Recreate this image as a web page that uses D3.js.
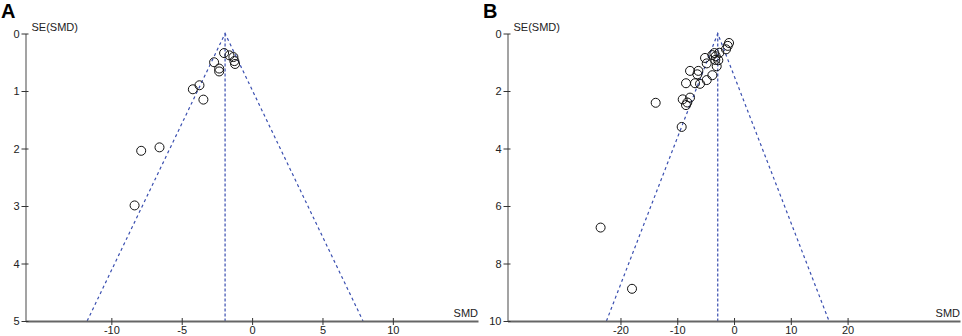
<!DOCTYPE html>
<html>
<head>
<meta charset="utf-8">
<script src="https://cdn.jsdelivr.net/npm/d3@7"></script>
<style>
  body { margin: 0; background: #fff; }
  svg { display: block; font-family: "Liberation Sans", Arial, sans-serif; }
</style>
</head>
<body>
<svg width="962" height="336"></svg>
<script>
// Panel A: SMD and SE(SMD) for each study
var smdA = [-1.99, -1.61, -1.33, -1.26, -1.21, -2.70, -2.34, -2.34, -3.74, -4.21, -3.46, -6.58, -7.88, -8.35];
var seA  = [0.34, 0.38, 0.41, 0.48, 0.53, 0.50, 0.61, 0.66, 0.90, 0.97, 1.15, 1.98, 2.04, 2.99];
var pooledA = -1.92;
var xTicksA = [-10, -5, 0, 5, 10];
var yTicksA = [0, 1, 2, 3, 4, 5];

// Panel B
var smdB = [-0.88, -1.11, -1.41, -2.59, -3.47, -3.82, -3.23, -5.11, -2.77, -3.30, -4.81, -3.05, -7.75, -6.29,
            -6.46, -3.82, -4.81, -8.46, -6.87, -5.99, -7.75, -9.04, -8.23, -8.46, -13.8, -9.22, -23.5, -17.97];
var seB  = [0.33, 0.43, 0.55, 0.67, 0.68, 0.75, 0.79, 0.85, 0.93, 0.92, 1.04, 1.14, 1.30, 1.30,
            1.42, 1.45, 1.62, 1.73, 1.73, 1.75, 2.23, 2.29, 2.40, 2.49, 2.41, 3.25, 6.75, 8.88];
var pooledB = -2.87;
var xTicksB = [-20, -10, 0, 10, 20];
var yTicksB = [0, 2, 4, 6, 8, 10];

var svg = d3.select("svg");
var axisColor = "#666";
var funnelColor = "#3a4fb0";
var plain = d => String(d); // plain hyphen, no decimals

function drawPanel(offsetX, label, smd, se, pooled, xDomain, yMax, xTicks, yTicks) {
    var g = svg.append("g").attr("transform", "translate(" + offsetX + ",0)");
    var left = 25.5, right = 478, top = 33.5, bottom = 321;

    var x = d3.scaleLinear().domain(xDomain).range([left, right]);
    var y = d3.scaleLinear().domain([0, yMax]).range([top, bottom]);

    // funnel (95% pseudo confidence limits)
    var funnel = [[pooled - 1.96 * yMax, yMax], [pooled, 0], [pooled + 1.96 * yMax, yMax]];
    g.append("path")
        .attr("d", d3.line().x(d => x(d[0])).y(d => y(d[1]))(funnel))
        .attr("fill", "none")
        .attr("stroke", funnelColor)
        .attr("stroke-width", 1.2)
        .attr("stroke-dasharray", "3,3");

    g.append("line")
        .attr("x1", x(pooled)).attr("x2", x(pooled))
        .attr("y1", y(0)).attr("y2", y(yMax))
        .attr("stroke", funnelColor)
        .attr("stroke-width", 1.2)
        .attr("stroke-dasharray", "3,2");

    // axes
    var xAxis = g.append("g")
        .attr("transform", "translate(0," + bottom + ")")
        .call(d3.axisBottom(x).tickValues(xTicks).tickFormat(plain).tickSize(4).tickSizeOuter(0));
    xAxis.select(".domain").attr("stroke", axisColor).attr("stroke-width", 2);
    xAxis.selectAll(".tick line").attr("stroke", "#333").attr("y1", -3).attr("y2", 4);
    xAxis.selectAll(".tick text").attr("font-size", 11).attr("fill", "#222").attr("y", 6).attr("dy", "0.6em");

    var yAxis = g.append("g")
        .attr("transform", "translate(" + left + ",0)")
        .call(d3.axisLeft(y).tickValues(yTicks).tickFormat(plain).tickSize(4).tickSizeOuter(0));
    yAxis.select(".domain").attr("stroke", axisColor).attr("stroke-width", 1.2);
    yAxis.selectAll(".tick line").attr("stroke", "#333").attr("x1", -4).attr("x2", 3);
    yAxis.selectAll(".tick text").attr("font-size", 11).attr("fill", "#222").attr("x", -6);

    // axis titles
    g.append("text")
        .attr("x", left + 6).attr("y", top - 3)
        .attr("font-size", 11).attr("fill", "#222")
        .text("SE(SMD)");
    g.append("text")
        .attr("x", right).attr("y", bottom - 4)
        .attr("text-anchor", "end")
        .attr("font-size", 11).attr("fill", "#222")
        .text("SMD");

    // studies
    g.selectAll("circle")
        .data(smd.map((d, i) => [d, se[i]]))
        .enter()
        .append("circle")
        .attr("cx", d => x(d[0]))
        .attr("cy", d => y(d[1]))
        .attr("r", 4.5)
        .attr("fill", "none")
        .attr("stroke", "#111")
        .attr("stroke-width", 1);

    // panel letter
    g.append("text")
        .attr("x", 1).attr("y", 17.5)
        .attr("font-size", 20).attr("font-weight", "bold")
        .attr("fill", "#000")
        .text(label);
}

drawPanel(0, "A", smdA, seA, pooledA, [-16.1, 16.05], 5, xTicksA, yTicksA);
drawPanel(482, "B", smdB, seB, pooledB, [-39.9, 39.8], 10, xTicksB, yTicksB);
</script>
</body>
</html>
